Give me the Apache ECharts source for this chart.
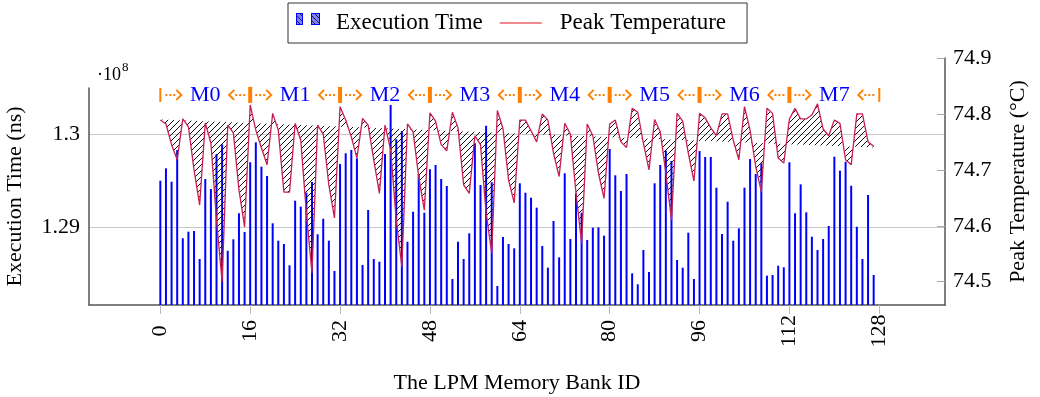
<!DOCTYPE html>
<html><head><meta charset="utf-8">
<script src="https://cdn.jsdelivr.net/npm/echarts@6/dist/echarts.min.js"></script>
<style>html,body{margin:0;padding:0;background:#fff}#c{width:1040px;height:397px}</style>
</head><body><div id="c"></div>
<script>
// ---------------- data ----------------
const bankIds = Array.from({length: 128}, (_, i) => i);           // LPM memory bank IDs 0..127
// Execution time per bank, in units of 10^8 ns
const execTime = [
1.29501,1.29634,1.29490,1.29831,1.28882,1.28953,1.28960,1.28659,1.29519,1.29412,1.29788,1.29892,1.28748,1.28871,1.29151,1.28949,
1.29699,1.29914,1.29652,1.29552,1.29043,1.28856,1.28820,1.28591,1.29286,1.29222,1.29372,1.29487,1.28925,1.29092,1.28856,1.28530,
1.29681,1.29796,1.29831,1.29742,1.28595,1.29186,1.28659,1.28630,1.29788,1.30315,1.29946,1.30035,1.28845,1.29168,1.29573,1.29157,
1.29624,1.29670,1.29519,1.29444,1.28444,1.28845,1.28659,1.28935,1.29903,1.29455,1.30092,1.29484,1.28369,1.28896,1.28820,1.28774,
1.29473,1.29372,1.29318,1.29211,1.28799,1.28566,1.29068,1.28677,1.29581,1.28874,1.29366,1.29157,1.28863,1.28996,1.29000,1.28910,
1.29842,1.29559,1.29390,1.29573,1.28505,1.28387,1.28756,1.28519,1.29473,1.29670,1.29824,1.29713,1.28648,1.28566,1.28942,1.28444,
1.29820,1.29756,1.29756,1.29426,1.28928,1.29275,1.28856,1.28989,1.29426,1.29734,1.29573,1.29688,1.28480,1.28487,1.28587,1.28570,
1.29699,1.29151,1.29462,1.29161,1.28899,1.28756,1.28874,1.29014,1.29759,1.29609,1.29705,1.29447,1.29006,1.28659,1.29347,1.28487];
// Peak temperature per bank (°C)
const peakTemp = [
74.789,74.782,74.745,74.718,74.791,74.777,74.700,74.637,74.784,74.748,74.610,74.500,74.780,74.766,74.664,74.598,
74.816,74.771,74.739,74.709,74.801,74.771,74.660,74.660,74.783,74.753,74.623,74.515,74.780,74.764,74.673,74.614,
74.813,74.789,74.759,74.721,74.792,74.780,74.718,74.658,74.780,74.736,74.610,74.527,74.782,74.768,74.688,74.628,
74.802,74.787,74.745,74.734,74.803,74.775,74.673,74.658,74.761,74.745,74.623,74.551,74.806,74.774,74.682,74.641,
74.789,74.789,74.770,74.750,74.800,74.789,74.730,74.688,74.783,74.764,74.659,74.569,74.782,74.761,74.694,74.649,
74.782,74.789,74.750,74.740,74.810,74.803,74.748,74.700,74.790,74.768,74.694,74.610,74.801,74.787,74.730,74.680,
74.801,74.793,74.775,74.761,74.800,74.800,74.753,74.718,74.813,74.771,74.706,74.661,74.810,74.801,74.721,74.712,
74.791,74.810,74.791,74.791,74.798,74.818,74.773,74.761,74.789,74.783,74.718,74.709,74.800,74.800,74.750,74.742];
// temperature trend line (bank id, °C) that the hatched area is measured against
const tempTrend = [[0, 74.790], [127, 74.740]];
// modules and their bank boundaries
const moduleNames = ['M0','M1','M2','M3','M4','M5','M6','M7'];
const moduleBounds = [0,16,32,48,64,80,96,112,128];
// tick labels
const xTicks = [0,16,32,48,64,80,96,112,128];
const execTicks = [1.29, 1.30];
const tempTicks = [74.5, 74.6, 74.7, 74.8, 74.9];

// ---------------- styling helpers ----------------
const FONT = '"Liberation Serif","DejaVu Serif",serif';
const ORANGE = '#ff8000';
const BLUE = '#0000ff';
const CRIMSON = '#c81e50';
const LEGEND_RED = '#e3141e';
const ANNOT_TEMP = 74.834;

function hatchCanvas() {
  const c = document.createElement('canvas'); c.width = 6; c.height = 6;
  const g = c.getContext('2d');
  g.strokeStyle = '#111'; g.lineWidth = 1;
  g.beginPath();
  g.moveTo(-1, 7); g.lineTo(7, -1);
  g.moveTo(-1, 1); g.lineTo(1, -1);
  g.moveTo(5, 7); g.lineTo(7, 5);
  g.stroke();
  return c;
}
function barLegendIcon() {
  const c = document.createElement('canvas'); c.width = 42; c.height = 20;
  const g = c.getContext('2d');
  function r(x, w) {
    g.save();
    g.fillStyle = '#7d7dff'; g.fillRect(x, 0, w, 12);
    g.beginPath(); g.rect(x, 0, w, 12); g.clip();
    g.strokeStyle = '#222'; g.lineWidth = 1;
    g.beginPath();
    for (let k = -12; k < w + 12; k += 5) { g.moveTo(x + k, 0); g.lineTo(x + k + 12, 12); }
    g.stroke();
    g.restore();
    g.strokeStyle = BLUE; g.lineWidth = 1; g.strokeRect(x + 0.5, 0.5, w - 1, 11);
  }
  r(7, 7); r(22, 9);
  return c.toDataURL();
}
const hatchPattern = {image: hatchCanvas(), repeat: 'repeat'};

const chart = echarts.init(document.getElementById('c'), null, {renderer: 'canvas'});
const textBase = {fontFamily: FONT, fontSize: 22, color: '#000'};

chart.setOption({
  animation: false,
  backgroundColor: '#fff',
  legend: {
    left: 288, top: 3,
    selectedMode: false,
    itemWidth: 42, itemHeight: 20, itemGap: 17,
    padding: [8.5, 21, 8.5, 1],
    borderColor: '#333', borderWidth: 1,
    textStyle: {fontFamily: FONT, fontSize: 23, color: '#000'},
    data: [
      {name: 'Execution Time', icon: 'image://' + barLegendIcon(), textStyle: {width: 149}},
      {name: 'Peak Temperature', icon: 'path://M0,9.4H42V10.6H0Z',
       itemStyle: {color: LEGEND_RED, borderWidth: 0}, lineStyle: {color: LEGEND_RED, width: 1.2},
       textStyle: {width: 171, padding: [0, 0, 0, 13]}}
    ]
  },
  grid: [
    {left: 89, right: 95, top: 88, bottom: 92, outerBoundsMode: 'none', containLabel: false},
    {left: 89, right: 95, top: 58, bottom: 92, outerBoundsMode: 'none', containLabel: false}
  ],
  graphic: [
    {type: 'text', left: 97, top: 66, style: {text: '·10', fontFamily: FONT, fontSize: 18, fill: '#000'}},
    {type: 'text', left: 122, top: 61, style: {text: '8', fontFamily: FONT, fontSize: 13, fill: '#000'}}
  ],
  xAxis: [
    {
      gridIndex: 0, type: 'value', min: -12.7, max: 139.7,
      axisLine: {show: true, onZero: false, lineStyle: {color: '#555', width: 1.5}},
      axisTick: {show: true, customValues: xTicks, length: 9, lineStyle: {color: '#bbb'}},
      axisLabel: Object.assign({customValues: xTicks, rotate: 90, align: 'center', verticalAlign: 'middle', margin: 26}, textBase),
      splitLine: {show: false},
      name: 'The LPM Memory Bank ID', nameLocation: 'middle', nameGap: 67,
      nameTextStyle: textBase
    },
    {gridIndex: 1, type: 'value', min: -12.7, max: 139.7, show: false, axisLine: {onZero: false}}
  ],
  yAxis: [
    {
      gridIndex: 0, type: 'value', position: 'left', min: 1.281645, max: 1.304978,
      axisLine: {show: true, onZero: false, lineStyle: {color: '#555', width: 1.5}},
      axisTick: {show: false, customValues: execTicks},
      axisLabel: Object.assign({customValues: execTicks, margin: 9, formatter: v => String(+v.toFixed(2))}, textBase),
      splitLine: {show: true, lineStyle: {color: '#c8c8c8', width: 1}},
      name: 'Execution Time (ns)', nameLocation: 'middle', nameGap: 63,
      nameTextStyle: textBase
    },
    {
      gridIndex: 1, type: 'value', position: 'right', min: 74.4583, max: 74.9,
      axisLine: {show: true, onZero: false, lineStyle: {color: '#555', width: 1.5}},
      axisTick: {show: true, inside: true, length: 8, customValues: tempTicks, lineStyle: {color: '#aaa'}},
      axisLabel: Object.assign({customValues: tempTicks, margin: 8, formatter: v => v.toFixed(1)}, textBase),
      splitLine: {show: false},
      name: 'Peak Temperature (°C)', nameLocation: 'middle', nameGap: 62,
      nameTextStyle: textBase
    }
  ],
  series: [
    {
      name: 'Execution Time', type: 'bar', xAxisIndex: 0, yAxisIndex: 0,
      data: bankIds.map((id, i) => [id, execTime[i]]),
      barWidth: 2, itemStyle: {color: BLUE}, z: 2, silent: true
    },
    {
      type: 'custom', xAxisIndex: 1, yAxisIndex: 1, z: 3, silent: true,
      data: [[bankIds[0], peakTemp[0]]],
      renderItem: function (params, api) {
        const pts = bankIds.map((id, i) => api.coord([id, peakTemp[i]]));
        pts.push(api.coord(tempTrend[1]), api.coord(tempTrend[0]));
        return {type: 'polygon', shape: {points: pts}, style: {fill: hatchPattern, stroke: null}};
      }
    },
    {
      name: 'Peak Temperature', type: 'line', xAxisIndex: 1, yAxisIndex: 1,
      data: bankIds.map((id, i) => [id, peakTemp[i]]),
      symbol: 'none', lineStyle: {color: CRIMSON, width: 1.3}, itemStyle: {color: CRIMSON}, z: 4, silent: true
    },
    {
      type: 'custom', xAxisIndex: 1, yAxisIndex: 1, z: 5, silent: true, clip: false,
      data: moduleNames.map((n, k) => [moduleBounds[k], moduleBounds[k + 1]]),
      renderItem: function (params, api) {
        const k = params.dataIndex;
        const a = api.coord([api.value(0), ANNOT_TEMP]);
        const b = api.coord([api.value(1), ANNOT_TEMP]);
        const y = a[1];
        const dotted = {stroke: ORANGE, lineWidth: 2, lineDash: [2, 2], fill: null};
        const head = {stroke: ORANGE, lineWidth: 2, fill: null};
        const ch = [];
        ch.push({type: 'line', shape: {x1: a[0] + 5, y1: y, x2: a[0] + 17, y2: y}, style: dotted});
        ch.push({type: 'polyline', shape: {points: [[a[0] + 16, y - 5], [a[0] + 21, y], [a[0] + 16, y + 5]]}, style: head});
        ch.push({type: 'line', shape: {x1: b[0] - 5, y1: y, x2: b[0] - 17, y2: y}, style: dotted});
        ch.push({type: 'polyline', shape: {points: [[b[0] - 16, y - 5], [b[0] - 21, y], [b[0] - 16, y + 5]]}, style: head});
        ch.push({type: 'text', x: (a[0] + b[0]) / 2, y: y,
          style: {text: moduleNames[k], fill: BLUE, fontFamily: FONT, fontSize: 22, align: 'center', verticalAlign: 'middle'}});
        if (k === 0) ch.push({type: 'rect', shape: {x: a[0] - 1, y: y - 7, width: 2, height: 14}, style: {fill: ORANGE}});
        else ch.push({type: 'rect', shape: {x: a[0] - 2, y: y - 8, width: 4, height: 16}, style: {fill: ORANGE}});
        if (k === moduleNames.length - 1) ch.push({type: 'rect', shape: {x: b[0] - 1, y: y - 7, width: 2, height: 14}, style: {fill: ORANGE}});
        return {type: 'group', children: ch};
      }
    }
  ]
});
</script>
</body></html>
